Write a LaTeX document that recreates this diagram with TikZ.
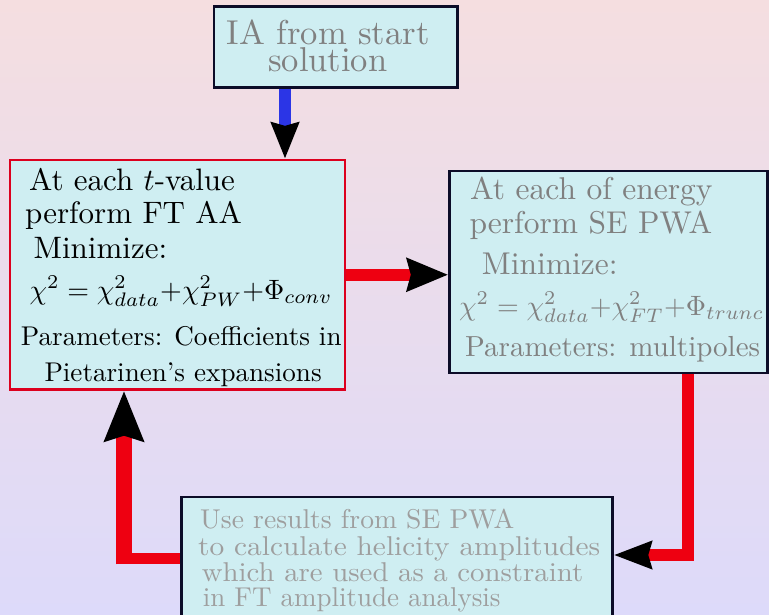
\documentclass[tikz,border=0pt]{standalone}
\usetikzlibrary{arrows.meta,calc}
\definecolor{bgtop}{RGB}{245,222,224}
\definecolor{bgbot}{RGB}{221,218,250}
\definecolor{boxfill}{RGB}{207,238,242}
\definecolor{navy}{RGB}{12,12,40}
\definecolor{boxred}{RGB}{220,0,30}
\definecolor{linered}{RGB}{238,0,17}
\definecolor{lineblue}{RGB}{43,53,230}
\definecolor{txtgray}{RGB}{128,128,128}
\definecolor{txtlight}{RGB}{158,158,158}
\newcommand\fTop[1]{\scalebox{3.45}{#1}}
\newcommand\fLeft[1]{\scalebox{2.71}{#1}}
\newcommand\fLeftBig[1]{\scalebox{3.1}{#1}}
\newcommand\fRight[1]{\scalebox{2.9}{#1}}
\newcommand\fRightBig[1]{\scalebox{3.15}{#1}}
\newcommand\fMath[1]{\scalebox{2.8}{#1}}
\newcommand\fBot[2]{\scalebox{#1}[2.72]{#2}}
\begin{document}
\begin{tikzpicture}[x=1pt,y=-1pt,
  box/.style={draw=navy, line width=2.2pt, fill=boxfill, inner sep=0pt, rectangle},
  txt/.style={anchor=base west, inner sep=0pt},
  redline/.style={draw=linered, line width=12pt, line cap=butt, line join=miter},
  blueline/.style={draw=lineblue, line width=11.5pt, line cap=butt},
]
\useasboundingbox (0,0) rectangle (769,615);
\clip (0,0) rectangle (769,615);
\shade[top color=bgtop, bottom color=bgbot] (0,0) rectangle (769,615);

% boxes
\node[box, minimum width=243.5pt, minimum height=81pt] (topbox) at (335.75,47) {};
\node[box, draw=boxred, minimum width=335.3pt, minimum height=229.5pt] (leftbox) at (177.35,274.75) {};
\node[box, minimum width=318pt, minimum height=202pt] (rightbox) at (608.5,272) {};
\node[box, minimum width=431pt, minimum height=143pt] (botbox) at (397,568.5) {};

% top box text
\node[txt, text=txtgray] (t1) at (226.7,45) {\fTop{IA from start}};
\node[txt, text=txtgray] (t2) at (268,71.7) {\fTop{solution}};

% left box text
\node[txt] (l1) at (29,190.7) {\fLeftBig{At each $t$-value}};
\node[txt] (l2) at (25,223.3) {\fLeftBig{perform FT AA}};
\node[txt] (l3) at (33.5,258.8) {\fLeftBig{Minimize:}};
\node[txt] (l4) at (29.3,299) {\fMath{$\chi^2=\chi^2_{data}{+}\chi^2_{PW}{+}\Phi_{conv}$}};
\node[txt] (l5) at (20.7,345) {\fLeft{Parameters: Coefficients in}};
\node[txt] (l6) at (44.3,381) {\fLeft{Pietarinen's expansions}};

% right box text
\node[txt, text=txtgray] (r1) at (470,200) {\fRightBig{At each of energy}};
\node[txt, text=txtgray] (r2) at (469.3,233.3) {\fRightBig{perform SE PWA}};
\node[txt, text=txtgray] (r3) at (481.7,274) {\fRightBig{Minimize:}};
\node[txt, text=txtgray] (r4) at (459,315) {\fMath{$\chi^2=\chi^2_{data}{+}\chi^2_{FT}{+}\Phi_{trunc}$}};
\node[txt, text=txtgray] (r5) at (465,356.7) {\fRight{Parameters: multipoles}};

% bottom box text
\node[txt, text=txtlight] (b1) at (200,528.3) {\fBot{2.76}{Use results from SE PWA}};
\node[txt, text=txtlight] (b2) at (198,555) {\fBot{2.94}{to calculate helicity amplitudes}};
\node[txt, text=txtlight] (b3) at (201.7,581) {\fBot{2.88}{which are used as a constraint}};
\node[txt, text=txtlight] (b4) at (202.7,606) {\fBot{2.70}{in FT amplitude analysis}};

% connectors
\coordinate (c1) at (285,0);
\draw[blueline, -{Stealth[length=36pt, width=27pt, inset=3pt, color=black]}]
  (topbox.south -| c1) -- (leftbox.north -| c1);

\draw[redline, line width=12.3pt, -{Stealth[length=41pt, width=32pt, inset=3.5pt, color=black]}]
  (leftbox.east) -- (leftbox.east -| rightbox.west);

\coordinate (c3) at (688,555);
\draw[redline, -{Stealth[length=37.6pt, width=26.6pt, inset=3pt, color=black]}]
  (rightbox.south -| c3) |- (botbox.east |- c3);

\coordinate (c4) at (124,558.5);
\draw[redline, line width=11.6pt] (botbox.west |- c4) -- ($(c4)+(-8,0)$);
\draw[redline, line width=15.6pt, -{Stealth[length=50pt, width=38pt, inset=5pt, color=black]}]
  ($(c4)+(0,5.8)$) -- (leftbox.south -| c4);
\end{tikzpicture}
\end{document}
